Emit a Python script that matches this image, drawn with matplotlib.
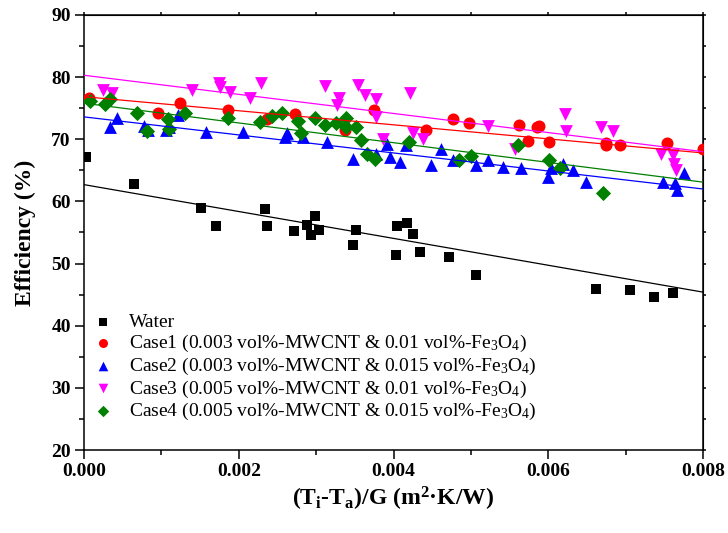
import numpy as np
import matplotlib
matplotlib.use("Agg")
import matplotlib.pyplot as plt
from matplotlib.ticker import MultipleLocator, FormatStrFormatter

# --- Data ---
water_x = [0.00003, 0.00065, 0.00151, 0.00171, 0.00234, 0.00237, 0.00272, 0.00288,
           0.00298, 0.00293, 0.00304, 0.00351, 0.00348, 0.00405, 0.00403, 0.00418,
           0.00425, 0.00434, 0.00472, 0.00506, 0.00662, 0.00705, 0.00736, 0.00761]
water_y = [67.2, 62.8, 58.9, 56.0, 58.8, 56.0, 55.3, 56.2,
           57.6, 54.6, 55.4, 55.4, 53.0, 56.1, 51.3, 56.6,
           54.8, 51.9, 51.1, 48.2, 45.9, 45.7, 44.6, 45.3]

case1_x = [0.00006, 0.00095, 0.00124, 0.00186, 0.00236, 0.00273, 0.00337, 0.00375,
           0.00442, 0.00477, 0.00497, 0.00562, 0.00574, 0.00585, 0.00588, 0.00601,
           0.00675, 0.00675, 0.00693, 0.00754, 0.00800]
case1_y = [76.6, 74.2, 75.8, 74.7, 73.2, 74.1, 71.5, 74.7,
           71.5, 73.2, 72.6, 72.3, 69.8, 71.9, 72.2, 69.5,
           69.4, 69.0, 69.1, 69.4, 68.5]

case2_x = [0.00034, 0.00042, 0.00077, 0.00083, 0.00106, 0.00110, 0.00122, 0.00158,
           0.00206, 0.00260, 0.00262, 0.00283, 0.00314, 0.00348, 0.00378, 0.00391,
           0.00395, 0.00408, 0.00416, 0.00449, 0.00462, 0.00477, 0.00507, 0.00522,
           0.00542, 0.00565, 0.00599, 0.00604, 0.00619, 0.00632, 0.00649, 0.00748,
           0.00764, 0.00767, 0.00776]
case2_y = [71.9, 73.4, 72.1, 71.5, 71.5, 71.9, 73.9, 71.1,
           71.1, 70.4, 71.0, 70.4, 69.6, 66.9, 67.7, 69.3,
           67.1, 66.4, 69.0, 65.8, 68.4, 66.6, 65.8, 66.6,
           65.6, 65.3, 64.0, 65.3, 66.1, 65.0, 63.2, 63.2,
           62.9, 61.8, 64.5]

case3_x = [0.00025, 0.00036, 0.00139, 0.00175, 0.00176, 0.00189, 0.00214, 0.00229,
           0.00311, 0.00327, 0.00330, 0.00354, 0.00363, 0.00378, 0.00378, 0.00386,
           0.00421, 0.00425, 0.00438, 0.00522, 0.00557, 0.00621, 0.00623, 0.00668,
           0.00684, 0.00746, 0.00761, 0.00763, 0.00765]
case3_y = [78.0, 77.5, 78.0, 79.0, 78.4, 77.6, 76.6, 79.0,
           78.6, 75.5, 76.7, 78.7, 77.1, 76.4, 73.6, 70.0,
           77.4, 71.0, 70.1, 72.1, 68.5, 74.1, 71.4, 72.0,
           71.3, 67.7, 67.5, 66.1, 65.0]

case4_x = [0.00008, 0.00027, 0.00033, 0.00069, 0.00081, 0.00109, 0.00110, 0.00130,
           0.00186, 0.00227, 0.00243, 0.00256, 0.00276, 0.00280, 0.00298, 0.00311,
           0.00326, 0.00339, 0.00339, 0.00351, 0.00358, 0.00366, 0.00376, 0.00420,
           0.00485, 0.00500, 0.00561, 0.00601, 0.00615, 0.00671]
case4_y = [76.2, 75.7, 76.5, 74.3, 71.4, 73.2, 71.6, 74.3,
           73.4, 72.7, 73.7, 74.2, 73.0, 71.0, 73.4, 72.3,
           72.6, 73.5, 72.0, 72.0, 69.9, 67.6, 66.9, 69.5,
           66.7, 67.3, 69.0, 66.7, 65.3, 61.3]

# linear fits as drawn in the figure: (intercept, slope)
fit_intercept = [62.7, 76.85, 73.6, 80.3, 75.8]
fit_slope = [-2162.0, -1131.0, -1450.0, -1537.0, -1587.0]

labels = [
    "Water",
    "Case1 (0.003 vol%-MWCNT & 0.01 vol%-Fe$_3$O$_4$)",
    "Case2 (0.003 vol%-MWCNT & 0.015 vol%-Fe$_3$O$_4$)",
    "Case3 (0.005 vol%-MWCNT & 0.01 vol%-Fe$_3$O$_4$)",
    "Case4 (0.005 vol%-MWCNT & 0.015 vol%-Fe$_3$O$_4$)",
]
colors = ["black", "red", "blue", "magenta", "green"]
markers = ["s", "o", "^", "v", "D"]
sizes = [55, 75, 85, 85, 60]

# --- Styling ---
plt.rcParams["font.family"] = ["Liberation Serif", "DejaVu Serif"]
plt.rcParams["mathtext.fontset"] = "custom"
plt.rcParams["mathtext.rm"] = "Liberation Serif"
plt.rcParams["mathtext.bf"] = "Liberation Serif:bold"
plt.rcParams["mathtext.default"] = "regular"

fig = plt.figure(figsize=(7.28, 5.33), dpi=100)
ax = fig.add_axes([0.1154, 0.1557, 0.8503, 0.8162])

xs = [water_x, case1_x, case2_x, case3_x, case4_x]
ys = [water_y, case1_y, case2_y, case3_y, case4_y]

line_x = np.linspace(0, 0.008, 50)
for i in range(5):
    ax.scatter(xs[i], ys[i], marker=markers[i], s=sizes[i], color=colors[i],
               linewidths=0, label=labels[i], zorder=3)
for i in range(5):
    ax.plot(line_x, fit_intercept[i] + fit_slope[i] * line_x, color=colors[i],
            linewidth=0.9, zorder=4)

ax.set_xlim(0, 0.008)
ax.set_ylim(20, 90)
ax.xaxis.set_major_locator(MultipleLocator(0.002))
ax.xaxis.set_minor_locator(MultipleLocator(0.001))
ax.yaxis.set_major_locator(MultipleLocator(10))
ax.yaxis.set_minor_locator(MultipleLocator(5))
ax.xaxis.set_major_formatter(FormatStrFormatter("%.3f"))

ax.tick_params(which="major", direction="out", length=6.5, width=1.1, labelsize=14, pad=3)
ax.tick_params(which="minor", direction="out", length=3.5, width=1.1)
for lab in ax.get_xticklabels() + ax.get_yticklabels():
    lab.set_fontweight("bold")
for sp in ax.spines.values():
    sp.set_linewidth(1.1)

# short mirrored ticks on top and right
top = ax.secondary_xaxis("top")
top.xaxis.set_major_locator(MultipleLocator(0.001))
top.tick_params(direction="out", length=2.5, width=1.1, labeltop=False)
right = ax.secondary_yaxis("right")
right.yaxis.set_major_locator(MultipleLocator(5))
right.tick_params(direction="out", length=2.5, width=1.1, labelright=False)

ax.set_xlabel("(T$_i$-T$_a$)/G (m$^2$·K/W)", fontsize=17, fontweight="bold", labelpad=3)
ax.set_ylabel("Efficiency (%)", fontsize=17, fontweight="bold", labelpad=11)

ax.legend(loc="lower left", bbox_to_anchor=(0.0, 0.055), frameon=False, fontsize=14,
          handletextpad=0.5, handlelength=1.6, labelspacing=0.08, borderaxespad=0.0,
          borderpad=0.2, scatterpoints=1, markerscale=0.75)

plt.savefig("out.png", dpi=100)
plt.close()
